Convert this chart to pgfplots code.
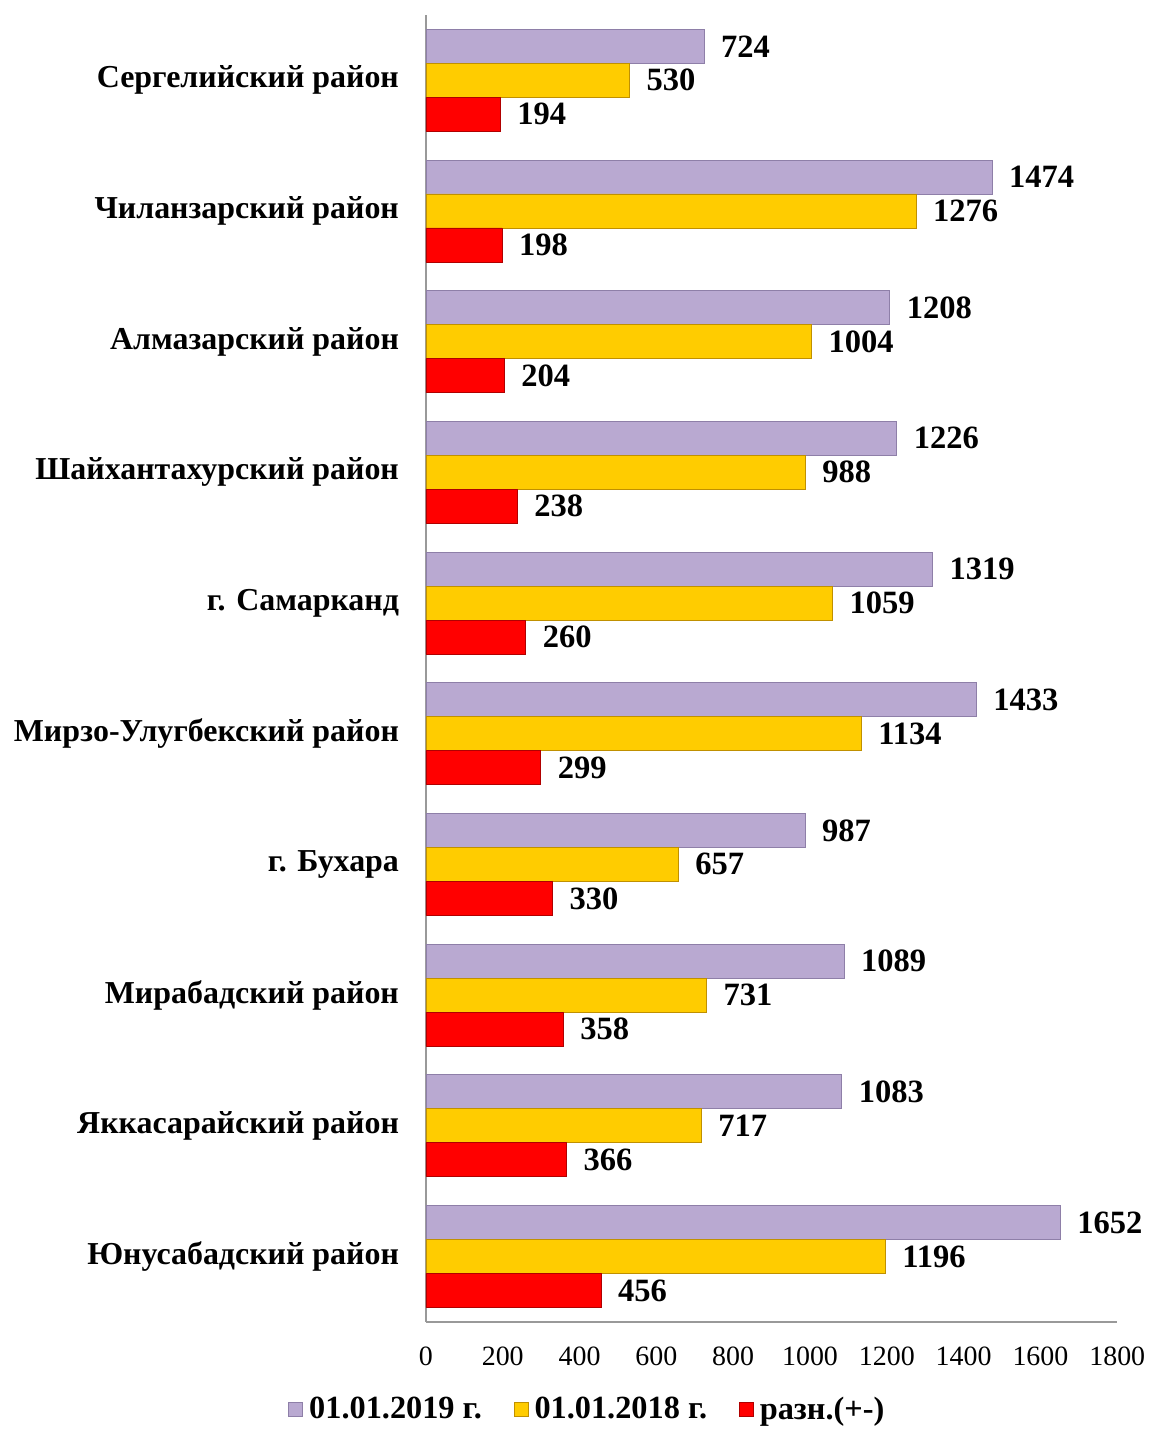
\documentclass[border=0pt]{standalone}
\usepackage{pgfplots}
\pgfplotsset{compat=1.18}
\usepackage{fontspec}
\setmainfont{Liberation Serif}

\definecolor{lila}{HTML}{B9A9D1}
\definecolor{lilaD}{HTML}{8E7FA8}
\definecolor{gelb}{HTML}{FFCC00}
\definecolor{gelbD}{HTML}{C09000}
\definecolor{rot}{HTML}{FF0000}
\definecolor{rotD}{HTML}{B00000}

\begin{document}
\begin{tikzpicture}
\begin{axis}[
  scale only axis,
  width=346.5pt, height=655pt,
  xmin=0, xmax=1800,
  ymin=-0.5, ymax=9.5,
  xbar,
  bar width=0.26,
  axis x line=bottom, axis y line=left,
  axis line style={-, gray!80, line width=0.8pt},
  xtick={0,200,...,1800},
  ytick={0,...,9},
  yticklabels={Юнусабадский район, Яккасарайский район, Мирабадский район, г. Бухара, Мирзо-Улугбекский район, г. Самарканд, Шайхантахурский район, Алмазарский район, Чиланзарский район, Сергелийский район},
  major tick length=0pt,
  /pgf/number format/assume math mode=true,
  /pgf/number format/1000 sep={},
  xticklabel style={font=\fontsize{14}{16}\selectfont, yshift=-9pt},
  yticklabel style={font=\fontsize{16}{18}\selectfont\bfseries, xshift=-10pt},
  nodes near coords,
  nodes near coords align={horizontal},
  every node near coord/.append style={font=\fontsize{16.3}{18}\selectfont\bfseries, xshift=5pt, text=black},
  legend columns=3,
  legend style={draw=none, at={(0.235,-0.067)}, anchor=center,
    font=\fontsize{16.2}{18}\selectfont\bfseries,
    /tikz/every odd column/.append style={column sep=1pt},
    /tikz/every even column/.append style={column sep=14pt}},
  legend image code/.code={\draw[#1] (0pt,-3.5pt) rectangle (7pt,3.5pt);},
  clip=false,
]
\addplot[fill=lila, draw=lilaD, bar shift=0.26] coordinates {
 (1652,0) (1083,1) (1089,2) (987,3) (1433,4) (1319,5) (1226,6) (1208,7) (1474,8) (724,9)};
\addplot[fill=gelb, draw=gelbD, bar shift=0] coordinates {
 (1196,0) (717,1) (731,2) (657,3) (1134,4) (1059,5) (988,6) (1004,7) (1276,8) (530,9)};
\addplot[fill=rot, draw=rotD, bar shift=-0.26] coordinates {
 (456,0) (366,1) (358,2) (330,3) (299,4) (260,5) (238,6) (204,7) (198,8) (194,9)};
\legend{01.01.2019 г., 01.01.2018 г., разн.(+-)}
\end{axis}
\path (-213.5pt,662.5pt) rectangle (362pt,-52.5pt);
\end{tikzpicture}
\end{document}
